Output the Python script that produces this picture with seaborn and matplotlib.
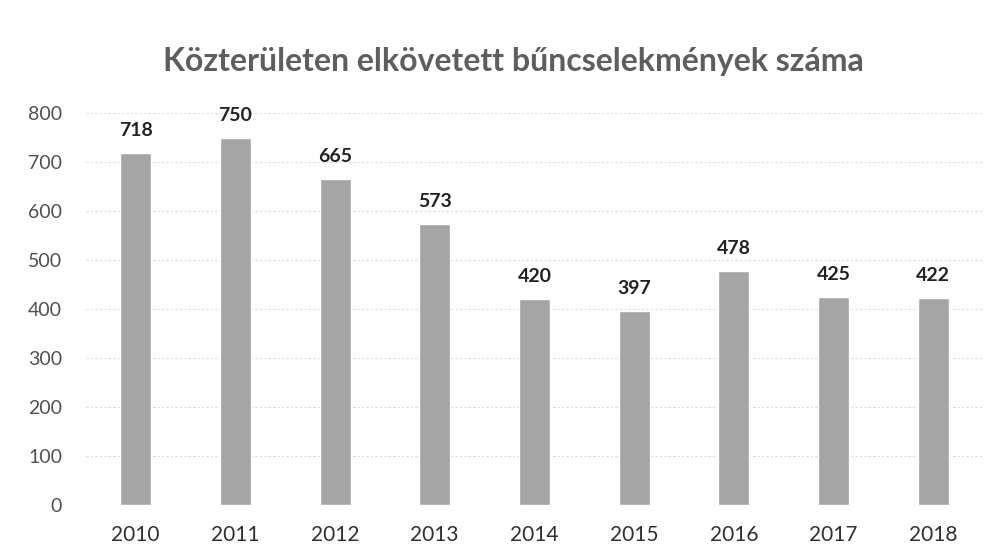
import matplotlib
matplotlib.use("Agg")
import matplotlib.pyplot as plt
import seaborn as sns
import pandas as pd

years = ["2010", "2011", "2012", "2013", "2014", "2015", "2016", "2017", "2018"]
values = [718, 750, 665, 573, 420, 397, 478, 425, 422]
title = "Közterületen elkövetett bűncselekmények száma"

sns.set_style("white")
plt.rcParams['font.family'] = ['Lato', 'DejaVu Sans']

df = pd.DataFrame({"year": years, "value": values})

fig = plt.figure(figsize=(9.98, 5.57), dpi=100)
ax = fig.add_axes([0.086, 0.093, 0.899, 0.704])
sns.barplot(data=df, x="year", y="value", color="#a5a5a5", width=0.31,
            saturation=1, ax=ax, zorder=3)

ax.set_ylim(0, 800)
ax.set_yticks(range(0, 801, 100))
ax.yaxis.grid(True, color="#dcdcdc", linewidth=0.8, linestyle=(0, (2, 2)), zorder=0)
ax.set_axisbelow(True)
for s in ax.spines.values():
    s.set_visible(False)
ax.set_xlabel("")
ax.set_ylabel("")
ax.tick_params(axis="y", labelsize=14, colors="#505050", length=0, pad=17)
ax.tick_params(axis="x", labelsize=15, colors="#303030", length=0, pad=14)

for p, v in zip(ax.patches, values):
    ax.annotate(str(v), (p.get_x() + p.get_width() / 2, p.get_height()),
                xytext=(0, 10), textcoords="offset points",
                ha="center", va="bottom", fontsize=14, fontweight="bold", color="#222222")

fig.text(0.514, 0.89, title, ha="center", va="center", fontsize=23,
         fontweight="bold", color="#5e5e5e")

fig.savefig("out.png", dpi=100, facecolor="white")
